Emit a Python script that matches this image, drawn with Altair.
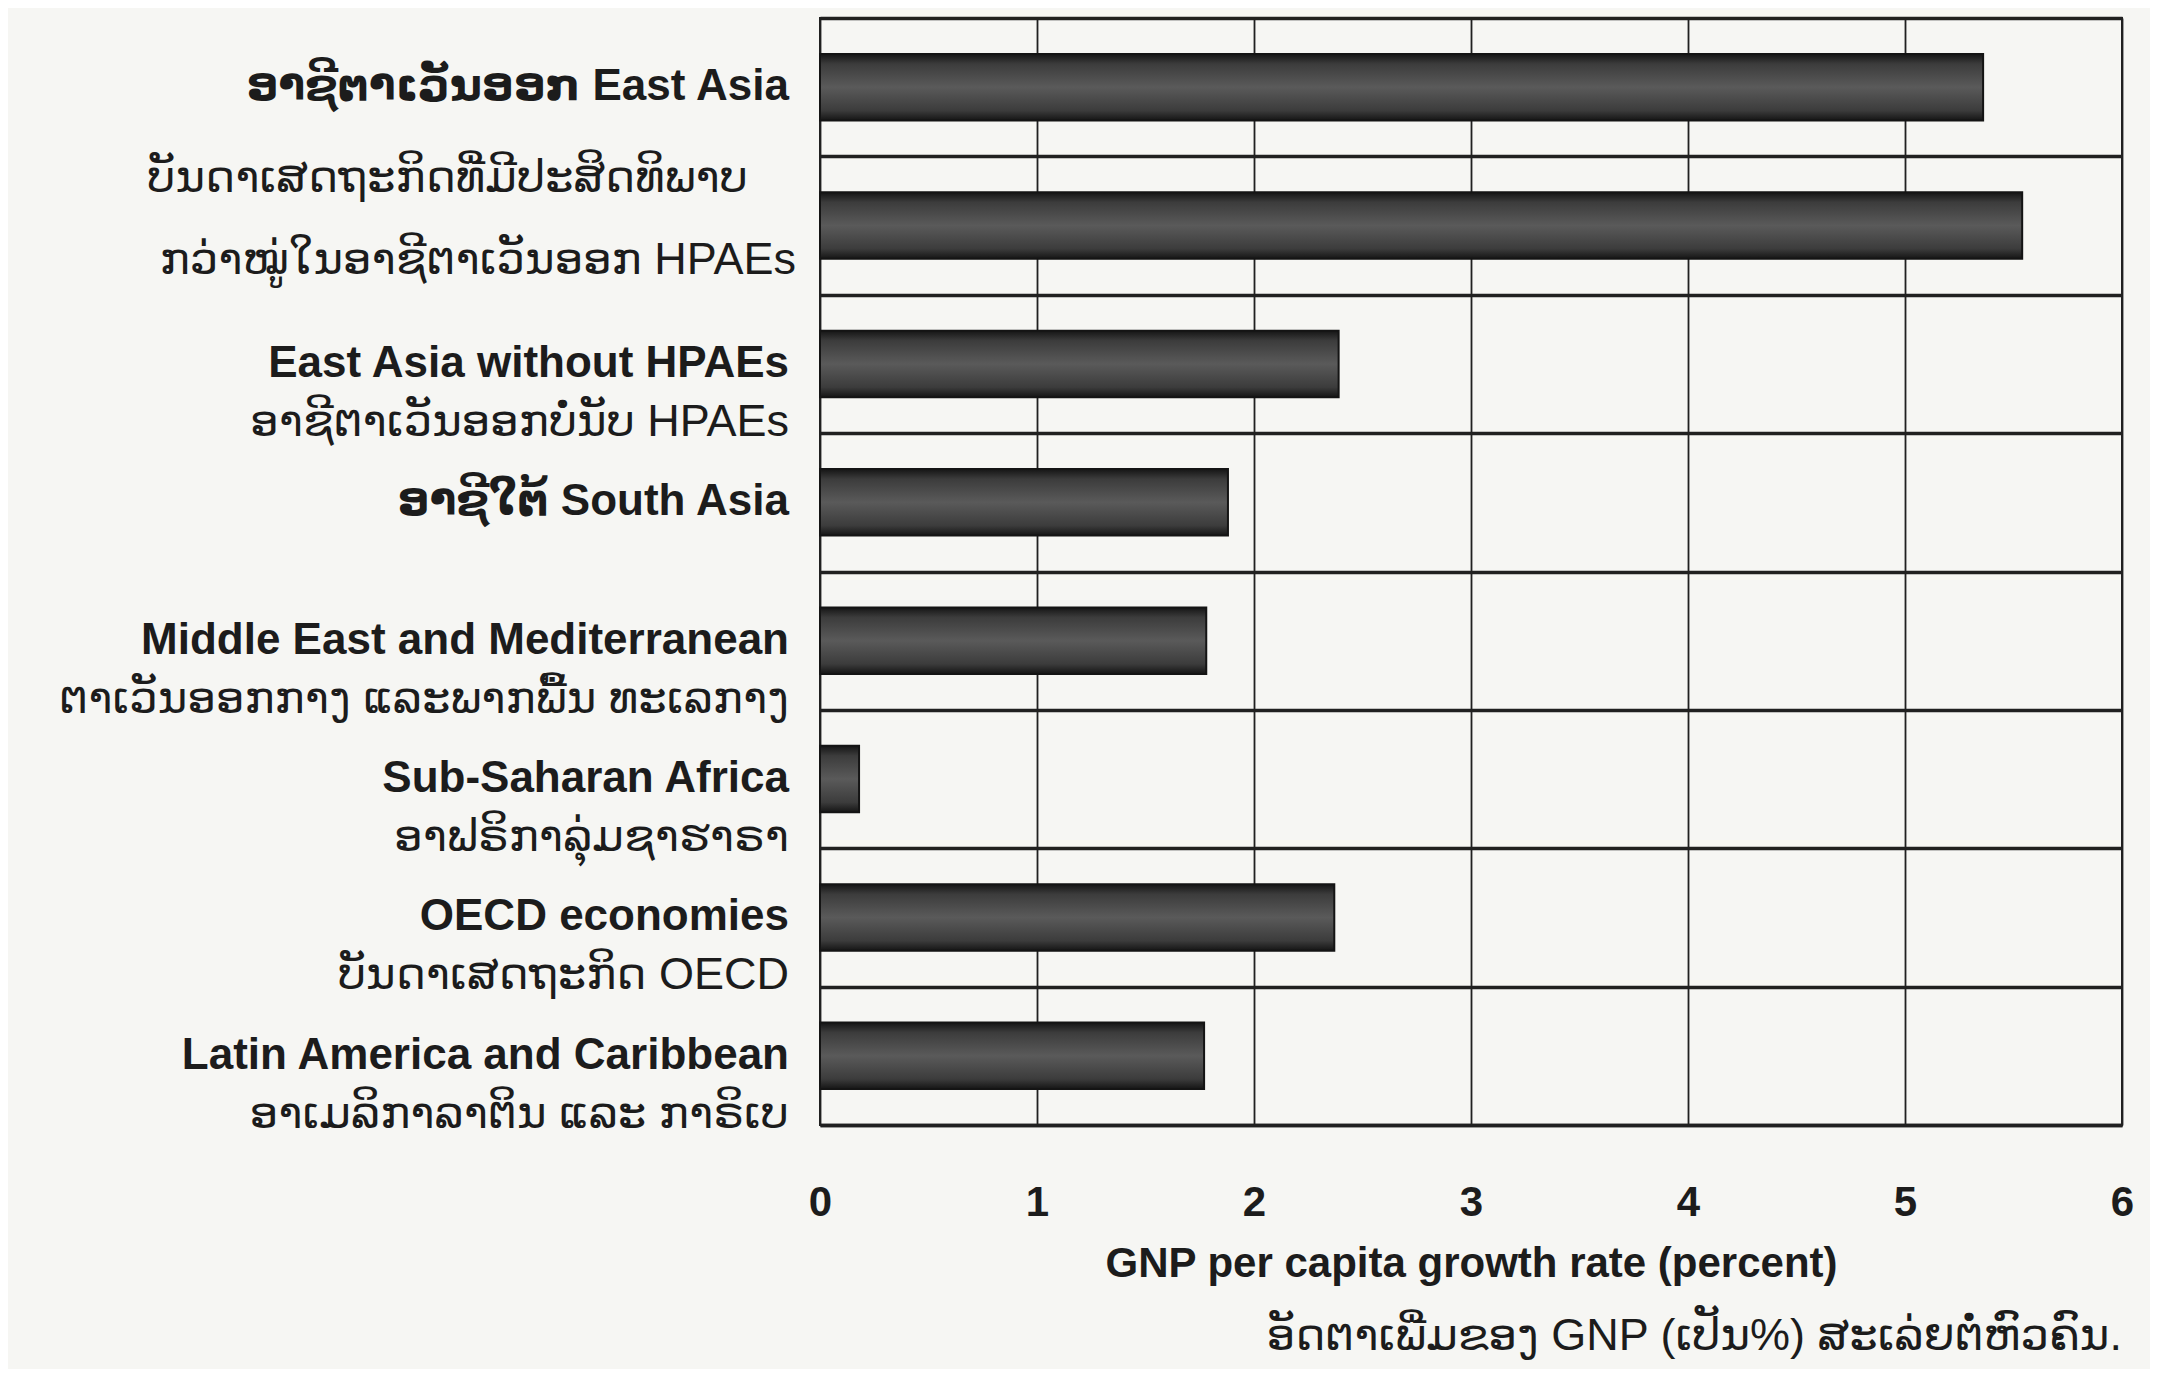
import altair as alt
import pandas as pd

# ---- data ----
regions = [
    "East Asia",
    "HPAEs",
    "East Asia without HPAEs",
    "South Asia",
    "Middle East and Mediterranean",
    "Sub-Saharan Africa",
    "OECD economies",
    "Latin America and Caribbean",
]
growth = [5.36, 5.54, 2.39, 1.88, 1.78, 0.18, 2.37, 1.77]
label_line1 = [
    "ອາຊີຕາເວັນອອກ  East Asia",
    "ບັນດາເສດຖະກິດທີ່ມີປະສິດທິພາບ",
    "East Asia without HPAEs",
    "ອາຊີໃຕ້  South Asia",
    "Middle East and Mediterranean",
    "Sub-Saharan Africa",
    "OECD economies",
    "Latin America and Caribbean",
]
label_line2 = [
    "",
    "ກວ່າໝູ່ໃນອາຊີຕາເວັນອອກ HPAEs",
    "ອາຊີຕາເວັນອອກບໍ່ນັບ HPAEs",
    "",
    "ຕາເວັນອອກກາງ ແລະພາກພື້ນ  ທະເລກາງ",
    "ອາຟຣິກາລຸ່ມຊາຮາຣາ",
    "ບັນດາເສດຖະກິດ OECD",
    "ອາເມລິກາລາຕິນ ແລະ ກາຣິເບ",
]
x_ticks = [0, 1, 2, 3, 4, 5, 6]
x_title = "GNP per capita growth rate (percent)"
x_title_lao = "ອັດຕາເພີ່ມຂອງ GNP (ເປັນ%) ສະເລ່ຍຕໍ່ຫົວຄົນ."

df = pd.DataFrame({"region": regions, "growth": growth,
                   "line1": label_line1, "line2": label_line2})

FONT = "Liberation Sans, DejaVu Sans, sans-serif"
INK = "#1c1c1c"
W, H = 1302, 1107

y_enc = alt.Y("region:N", sort=regions,
              scale=alt.Scale(paddingInner=0, paddingOuter=0),
              axis=alt.Axis(labels=False, ticks=False, title=None, grid=True,
                            tickBand="extent", gridColor="#202020", gridWidth=3.5,
                            gridOpacity=1, domain=False))

x_enc = alt.X("growth:Q", scale=alt.Scale(domain=[0, 6], nice=False),
              axis=alt.Axis(values=x_ticks, format="d", grid=True, gridColor="#202020",
                            gridWidth=1.8, gridOpacity=1, ticks=False, tickSize=0,
                            domain=True, domainColor="#202020", domainWidth=3.5,
                            labelFont=FONT, labelFontSize=42, labelFontWeight="bold",
                            labelColor=INK, labelPadding=57, labelFlush=False,
                            title=x_title, titleFont=FONT, titleFontSize=42,
                            titleFontWeight="bold", titleColor=INK, titlePadding=20))

gradient = alt.Gradient(
    gradient="linear", x1=0, y1=0, x2=0, y2=1,
    stops=[alt.GradientStop(color="#151515", offset=0),
           alt.GradientStop(color="#3c3c3c", offset=0.15),
           alt.GradientStop(color="#5a5a5a", offset=0.5),
           alt.GradientStop(color="#3c3c3c", offset=0.85),
           alt.GradientStop(color="#151515", offset=1)])

bars = alt.Chart(df).mark_bar(
    height=alt.RelativeBandSize(0.48), fill=gradient, stroke="#141414", strokeWidth=2
).encode(x=x_enc, y=y_enc)

has_latin = "test(/[A-Za-z]/, datum.line1)"

def label_layer(filter_expr, field, dy, weight, size, dx=-31):
    return alt.Chart(df).transform_filter(filter_expr).mark_text(
        align="right", baseline="middle", dx=dx, dy=dy, font=FONT,
        fontSize=size, fontWeight=weight, color=INK
    ).encode(
        y=alt.Y("region:N", sort=regions),
        x=alt.datum(0),
        text=alt.Text(f"{field}:N"),
    )

l1 = label_layer(has_latin, "line1", 0, "bold", 44)
l2 = label_layer(f"{has_latin} && datum.line2 != ''", "line2", 58, "normal", 45)
l3a = label_layer(f"!({has_latin})", "line1", -48, "normal", 45, dx=-72)
l3b = label_layer(f"!({has_latin})", "line2", 34, "normal", 45, dx=-24)

chart = alt.layer(bars, l1, l2, l3a, l3b).properties(
    width=W, height=H,
    title=alt.TitleParams(text=x_title_lao, orient="bottom", anchor="end",
                          frame="group", font=FONT, fontSize=45,
                          fontWeight="normal", color=INK, offset=30),
    autosize=alt.AutoSizeParams(type="none"),
    padding={"left": 812, "top": 10, "right": 28, "bottom": 244},
    background="#f6f6f3",
).configure_view(stroke="#202020", strokeWidth=2)

chart.save("out.html", embed_options={"renderer": "svg", "actions": False})
